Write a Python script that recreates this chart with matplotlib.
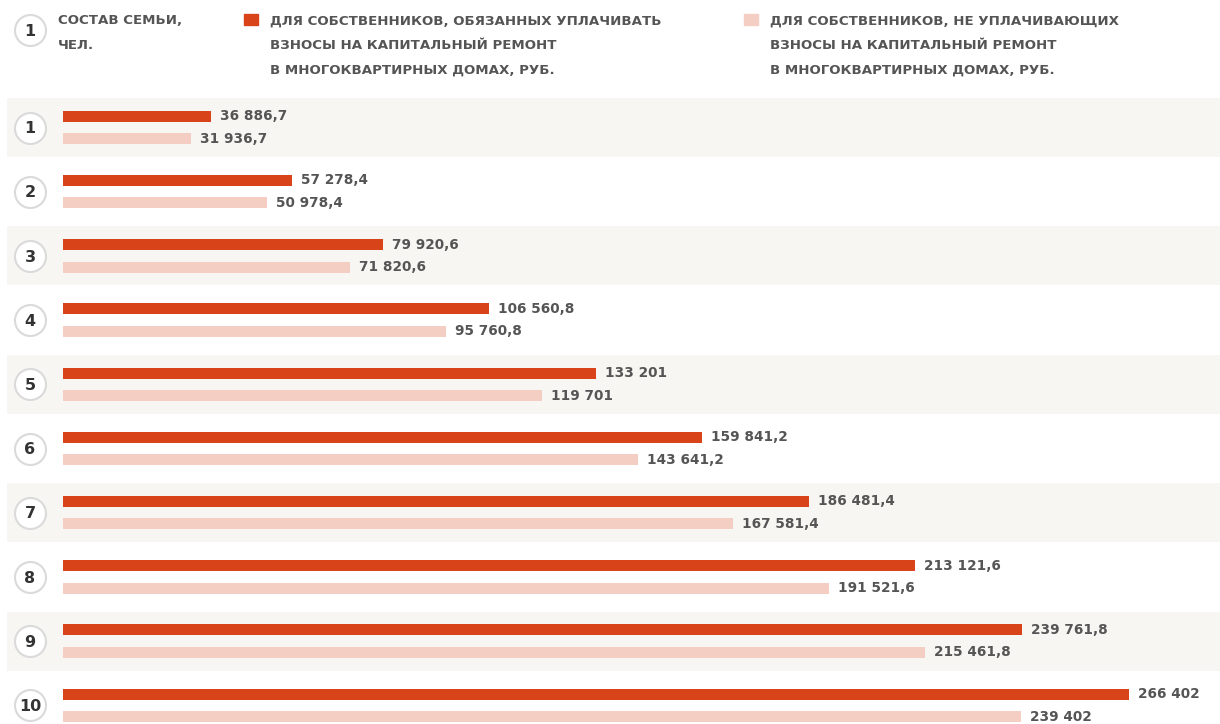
import numpy as np
import matplotlib
matplotlib.use("Agg")
import matplotlib.pyplot as plt

# data
family_size = [1, 2, 3, 4, 5, 6, 7, 8, 9, 10]
payers = [36886.7, 57278.4, 79920.6, 106560.8, 133201,
          159841.2, 186481.4, 213121.6, 239761.8, 266402]
non_payers = [31936.7, 50978.4, 71820.6, 95760.8, 119701,
              143641.2, 167581.4, 191521.6, 215461.8, 239402]
head_size = ["СОСТАВ СЕМЬИ,", "ЧЕЛ."]
head_payers = ["ДЛЯ СОБСТВЕННИКОВ, ОБЯЗАННЫХ УПЛАЧИВАТЬ",
               "ВЗНОСЫ НА КАПИТАЛЬНЫЙ РЕМОНТ",
               "В МНОГОКВАРТИРНЫХ ДОМАХ, РУБ."]
head_non = ["ДЛЯ СОБСТВЕННИКОВ, НЕ УПЛАЧИВАЮЩИХ",
            "ВЗНОСЫ НА КАПИТАЛЬНЫЙ РЕМОНТ",
            "В МНОГОКВАРТИРНЫХ ДОМАХ, РУБ."]

DARK = "#D9431A"
LIGHT = "#F5CEC3"
BAND = "#F7F6F2"
TXT = "#555555"
W, H = 1220, 724
S = 0.004          # px per rouble
X0 = 63            # px where bars start
Y1, DY = 127.5, 64.2  # px centre of row 1, row pitch

plt.rcParams["font.family"] = ["DejaVu Sans"]


def fmt(v):
    if float(v).is_integer():
        return f"{int(v):,}".replace(",", " ")
    return f"{v:,.1f}".replace(",", " ").replace(".", ",")


def fx(px):
    return px / W


def fy(py):
    return 1 - py / H


fig = plt.figure(figsize=(W / 100, H / 100), dpi=100)
ax = fig.add_axes([0, 0, 1, 1])
ax.set_xlim(-X0 / S, (W - X0) / S)
ax.set_ylim(1 + (H - Y1) / DY, 1 - Y1 / DY)
ax.axis("off")

rows = np.array(family_size)
for r in rows[::2]:
    ax.axhspan(r - 0.46, r + 0.46, xmin=7 / W, xmax=1, color=BAND, lw=0, zorder=0)

bh = 11 / DY
ax.barh(rows - 0.175, payers, height=bh, color=DARK, zorder=2)
ax.barh(rows + 0.175, non_payers, height=bh, color=LIGHT, zorder=2)

for r, a, b in zip(rows, payers, non_payers):
    ax.text(a + 9 / S, r - 0.175, fmt(a), va="center", ha="left",
            fontsize=9.8, color=TXT, fontweight="bold")
    ax.text(b + 9 / S, r + 0.175, fmt(b), va="center", ha="left",
            fontsize=9.8, color=TXT, fontweight="bold")

cx = (30 - X0) / S
ax.scatter([cx] * len(rows), rows, s=(31 * 0.72) ** 2, facecolor="white",
           edgecolor="#DADADA", linewidth=1.5, zorder=3)
for r in rows:
    ax.text(cx, r + 0.02, str(r), ha="center", va="center", fontsize=11.5,
            color="#333333", fontweight="bold", zorder=4)

# header
hy = 1 + (30 - Y1) / DY
ax.scatter([cx], [hy], s=(31 * 0.72) ** 2, facecolor="white",
           edgecolor="#DADADA", linewidth=1.5, zorder=3)
ax.text(cx, hy + 0.02, "1", ha="center", va="center", fontsize=11.5,
        color="#333333", fontweight="bold", zorder=4)

kw = dict(ha="left", va="center", fontsize=9.6, color=TXT, fontweight="bold")
for x, lines in [(58, head_size), (270, head_payers), (770, head_non)]:
    for k, line in enumerate(lines):
        fig.text(fx(x), fy(21 + 24.5 * k), line, **kw)
fig.patches.append(plt.Rectangle((fx(244), fy(25)), 14 / W, 11 / H,
                                 transform=fig.transFigure, color=DARK))
fig.patches.append(plt.Rectangle((fx(744), fy(25)), 14 / W, 11 / H,
                                 transform=fig.transFigure, color=LIGHT))

fig.savefig("out.png", dpi=100)
